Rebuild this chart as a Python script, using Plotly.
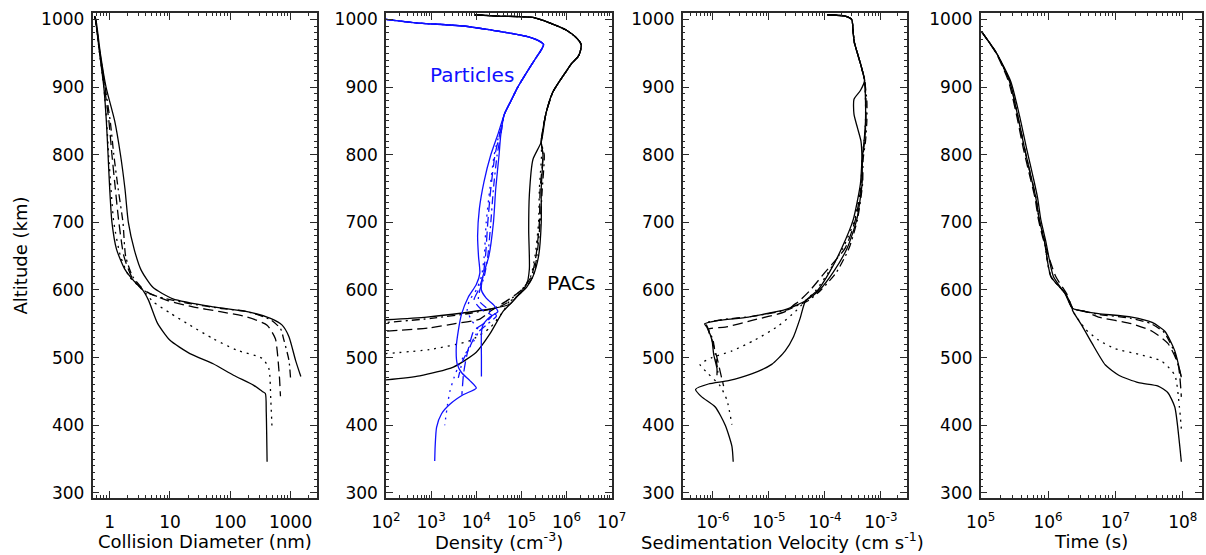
import plotly.graph_objects as go

# ---------------- data ----------------
# Panel 1: collision diameter (nm) vs altitude (km)
diam_alt_1 = [1005, 1000, 950, 900, 850, 800, 750, 700, 660, 630, 612, 602, 585, 551, 526, 506, 491, 474, 459, 450, 447, 420, 346]
diam_val_1 = [0.56, 0.58, 0.68, 0.80, 0.88, 0.94, 1.0, 1.09, 1.3, 1.8, 2.6, 3.4, 4.4, 6.2, 9.9, 21.4, 52, 113, 245, 340, 382, 395, 408]
diam_alt_2 = [1005, 1000, 950, 900, 850, 800, 750, 700, 650, 620, 600, 583, 566, 548, 528, 511, 499, 484, 437, 393]
diam_val_2 = [0.56, 0.58, 0.68, 0.80, 0.89, 0.96, 1.05, 1.17, 1.51, 2.1, 3.55, 5.2, 10, 21.4, 52, 129, 337, 436, 470, 494]
diam_alt_3 = [1005, 1000, 950, 900, 850, 800, 750, 700, 650, 620, 602, 595, 585, 575, 568, 560, 548, 528, 510, 493, 470, 443]
diam_val_3 = [0.56, 0.58, 0.69, 0.82, 0.97, 1.09, 1.24, 1.42, 1.72, 2.3, 3.34, 4.6, 8.7, 24, 68, 190, 408, 560, 600, 625, 655, 680]
diam_alt_4 = [1005, 1000, 950, 900, 850, 800, 750, 700, 650, 620, 597, 588, 580, 573, 568, 556, 543, 526, 496, 469]
diam_val_4 = [0.56, 0.58, 0.69, 0.84, 1.02, 1.17, 1.38, 1.66, 1.84, 2.4, 4.05, 7.7, 21, 68, 190, 465, 680, 775, 940, 1000]
diam_alt_5 = [1005, 1000, 950, 900, 850, 800, 750, 700, 659, 629, 604, 587, 575, 568, 558, 548, 531, 496, 472]
diam_val_5 = [0.56, 0.59, 0.70, 0.87, 1.21, 1.51, 1.79, 2.04, 2.57, 3.34, 5.2, 11.2, 52, 190, 465, 725, 940, 1210, 1480]

# Panel 2: density (cm^-3); particles (blue) and PACs (black)
part_top_alt = [1000, 995, 990, 984, 979, 974, 968, 963, 955, 940, 920, 900, 880, 860]
part_top_val = [100, 450, 5.9e3, 2.3e4, 6.5e4, 1.5e5, 2.5e5, 3.1e5, 2.75e5, 1.95e5, 1.26e5, 8.3e4, 5.9e4, 4.2e4]
part_alt_1 = [830, 800, 760, 720, 680, 650, 625, 608, 589, 564, 540, 515, 490, 478, 466, 455, 445, 431, 417, 397, 370, 347]
part_val_1 = [3.0e4, 2.1e4, 1.48e4, 1.17e4, 1.07e4, 1.12e4, 1.2e4, 1.0e4, 6.6e3, 4.7e3, 4.0e3, 3.6e3, 3.8e3, 4.7e3, 7.2e3, 1.0e4, 5.1e3, 2.6e3, 1.7e3, 1.32e3, 1.23e3, 1.2e3]
part_alt_2 = [830, 800, 750, 700, 650, 620, 600, 585, 570, 555, 540, 525, 510, 490, 470, 450, 430, 400]
part_val_2 = [3.2e4, 2.5e4, 2.0e4, 1.66e4, 1.5e4, 1.3e4, 1.0e4, 7.1e3, 6.3e3, 7.9e3, 1.12e4, 8.9e3, 6.3e3, 4.2e3, 3.2e3, 2.6e3, 2.3e3, 2.0e3]
part_alt_3 = [830, 800, 750, 700, 650, 620, 600, 585, 572, 562, 552, 540, 520, 500, 475, 445]
part_val_3 = [3.3e4, 2.6e4, 2.1e4, 1.8e4, 1.6e4, 1.4e4, 1.12e4, 8.9e3, 1.26e4, 2.2e4, 1.6e4, 8.9e3, 7.1e3, 6.0e3, 5.2e3, 4.8e3]
part_alt_4 = [830, 800, 750, 700, 650, 620, 600, 585, 572, 562, 550, 535, 515, 495, 470]
part_val_4 = [3.5e4, 2.9e4, 2.4e4, 2.1e4, 1.8e4, 1.5e4, 1.2e4, 1.12e4, 1.8e4, 2.8e4, 1.8e4, 1.0e4, 7.1e3, 5.0e3, 4.0e3]
part_alt_5 = [830, 800, 750, 700, 650, 620, 600, 588, 577, 568, 560, 548, 536, 500, 472]
part_val_5 = [3.5e4, 3.2e4, 2.7e4, 2.4e4, 1.9e4, 1.4e4, 1.3e4, 1.66e4, 2.5e4, 3.0e4, 2.0e4, 1.4e4, 1.3e4, 1.3e4, 1.3e4]

pac_top_alt = [1007, 1005, 1003, 995, 984, 972, 963, 952, 945, 935, 924, 893, 861, 819]
pac_top_val = [9e3, 3e4, 1.8e5, 4.2e5, 1.0e6, 1.7e6, 2.1e6, 2.0e6, 1.8e6, 1.3e6, 1.0e6, 5.0e5, 3.5e5, 2.75e5]
pac_alt_1 = [793, 741, 688, 631, 608, 584, 569, 535, 508, 486, 473, 467]
pac_val_1 = [1.8e5, 1.5e5, 1.45e5, 1.5e5, 1.3e5, 6.6e4, 4.0e4, 2.0e4, 1.0e4, 3.1e3, 560, 100]
pac_alt_2 = [800, 750, 700, 650, 620, 600, 585, 569, 544, 525, 512, 506]
pac_val_2 = [2.8e5, 2.5e5, 2.4e5, 2.0e5, 1.6e5, 1.0e5, 5.6e4, 4.0e4, 2.0e4, 7.2e3, 930, 100]
pac_alt_3 = [800, 750, 700, 650, 620, 600, 585, 570, 557, 550, 544, 539]
pac_val_3 = [3.0e5, 2.6e5, 2.5e5, 2.1e5, 1.66e5, 1.0e5, 5.0e4, 2.2e4, 1.2e4, 3.2e3, 930, 100]
pac_alt_4 = [800, 750, 700, 650, 620, 600, 588, 575, 566, 558, 552]
pac_val_4 = [3.2e5, 2.9e5, 2.6e5, 2.2e5, 1.8e5, 1.12e5, 7.1e4, 3.2e4, 7.9e3, 1.0e3, 100]
pac_alt_5 = [800, 750, 700, 650, 620, 604, 589, 579, 573, 566, 560, 556]
pac_val_5 = [3.0e5, 2.75e5, 2.75e5, 2.4e5, 1.8e5, 1.3e5, 7.6e4, 5.5e4, 2.5e4, 5.0e3, 800, 100]

# Panel 3: sedimentation velocity (cm s^-1)
vel_top_alt = [1007, 1005, 1000, 980, 966, 950, 929, 910]
vel_top_val = [1.1e-4, 2.3e-4, 3.0e-4, 3.2e-4, 3.35e-4, 3.8e-4, 4.5e-4, 5.1e-4]
vel_mid_alt = [880, 850, 820, 793, 757, 704, 662, 626, 600, 584]
vel_mid_1 = [5.3e-4, 5.3e-4, 5.0e-4, 4.6e-4, 4.3e-4, 3.2e-4, 2.0e-4, 1.2e-4, 7.5e-5, 4.5e-5]
vel_mid_2 = [5.3e-4, 5.3e-4, 5.0e-4, 4.6e-4, 4.4e-4, 3.4e-4, 2.1e-4, 1.15e-4, 7.0e-5, 4.5e-5]
vel_mid_3 = [5.4e-4, 5.4e-4, 5.1e-4, 4.7e-4, 4.5e-4, 3.5e-4, 2.3e-4, 1.0e-4, 5.5e-5, 3.5e-5]
vel_mid_4 = [5.6e-4, 5.6e-4, 5.3e-4, 4.8e-4, 4.7e-4, 3.8e-4, 2.7e-4, 1.6e-4, 8.5e-5, 5.0e-5]
vel_mid5_alt = [895, 882, 860, 840, 820, 793, 757, 704, 662, 626, 600, 584]
vel_mid_5 = [4.3e-4, 3.3e-4, 3.3e-4, 3.8e-4, 4.4e-4, 4.6e-4, 4.6e-4, 3.7e-4, 2.5e-4, 1.4e-4, 8.0e-5, 4.5e-5]
vel_alt_1 = [558, 531, 510, 490, 476, 466, 461, 453, 442, 427, 400, 369, 346]
vel_val_1 = [3.6e-5, 2.75e-5, 1.95e-5, 1.12e-5, 4.9e-6, 1.9e-6, 8.3e-7, 4.9e-7, 6.3e-7, 1.1e-6, 1.66e-6, 2.18e-6, 2.3e-6]
vel_alt_2 = [568, 547, 526, 510, 500, 490, 476, 458, 437, 401]
vel_val_2 = [2.95e-5, 1.48e-5, 5.6e-6, 2.2e-6, 9.6e-7, 5.9e-7, 8.3e-7, 1.35e-6, 1.78e-6, 2.18e-6]
vel_alt_3 = [578, 568, 555, 545, 542, 526, 500, 479, 458]
vel_val_3 = [2.8e-5, 1.95e-5, 5.0e-6, 1.66e-6, 8.3e-7, 9.6e-7, 1.18e-6, 1.35e-6, 1.55e-6]
vel_alt_4 = [578, 571, 561, 556, 551, 545, 526, 505, 485, 472]
vel_val_4 = [3.4e-5, 2.2e-5, 5.0e-6, 1.4e-6, 7.5e-7, 8.0e-7, 1.0e-6, 1.1e-6, 1.2e-6, 1.25e-6]
vel_alt_5 = [578, 571, 560, 555, 550, 545, 526, 505, 484, 474]
vel_val_5 = [3.2e-5, 1.95e-5, 4.3e-6, 1.26e-6, 7.1e-7, 7.8e-7, 9.6e-7, 1.03e-6, 1.18e-6, 1.18e-6]

# Panel 4: time (s)
time_top_alt = [982, 950, 908, 856, 809, 767, 736, 704, 673, 620, 594, 573]
time_top_1 = [1.03e5, 1.72e5, 2.7e5, 3.57e5, 4.48e5, 5.6e5, 6.6e5, 7.4e5, 8.8e5, 1.1e6, 1.83e6, 2.3e6]
time_top_3 = [1.03e5, 1.70e5, 2.6e5, 3.45e5, 4.3e5, 5.4e5, 6.4e5, 7.2e5, 8.6e5, 1.3e6, 1.9e6, 2.3e6]
time_top_5 = [1.03e5, 1.72e5, 2.8e5, 3.8e5, 4.8e5, 6.0e5, 7.0e5, 7.8e5, 9.2e5, 1.2e6, 1.8e6, 2.3e6]
time_alt_1 = [570, 547, 521, 489, 474, 463, 458, 448, 427, 374, 346]
time_val_1 = [2.3e6, 3.2e6, 4.5e6, 7.1e6, 1.12e7, 2.2e7, 4.3e7, 6.0e7, 7.6e7, 8.9e7, 9.5e7]
time_alt_2 = [570, 542, 526, 513, 505, 495, 474, 427, 395]
time_val_2 = [2.3e6, 3.6e6, 5.6e6, 1.0e7, 2.2e7, 4.8e7, 7.6e7, 8.9e7, 9.5e7]
time_alt_3 = [568, 560, 550, 539, 521, 490, 442]
time_val_3 = [3.6e6, 5.6e6, 1.74e7, 3.5e7, 6.0e7, 8.5e7, 9.5e7]
time_alt_4 = [568, 564, 558, 550, 537, 508, 473]
time_val_4 = [3.6e6, 5.6e6, 1.7e7, 3.4e7, 5.3e7, 7.5e7, 9.4e7]
time_alt_5 = [568, 565, 560, 552, 539, 510, 471]
time_val_5 = [3.6e6, 5.6e6, 1.74e7, 3.5e7, 5.4e7, 7.6e7, 9.5e7]

alt_ticks = [300, 400, 500, 600, 700, 800, 900, 1000]
diam_ticks = [1, 10, 100, 1000]
diam_ticktext = ["1", "10", "100", "1000"]
dens_ticks = [1e2, 1e3, 1e4, 1e5, 1e6, 1e7]
dens_ticktext = ["10<sup>2</sup>", "10<sup>3</sup>", "10<sup>4</sup>", "10<sup>5</sup>", "10<sup>6</sup>", "10<sup>7</sup>"]
vel_ticks = [1e-6, 1e-5, 1e-4, 1e-3]
vel_ticktext = ["10<sup>-6</sup>", "10<sup>-5</sup>", "10<sup>-4</sup>", "10<sup>-3</sup>"]
time_ticks = [1e5, 1e6, 1e7, 1e8]
time_ticktext = ["10<sup>5</sup>", "10<sup>6</sup>", "10<sup>7</sup>", "10<sup>8</sup>"]

# ---------------- layout geometry ----------------
W, H = 1206, 555
PANEL_X = [(92.5, 316.5), (386.0, 611.7), (682.7, 906.7), (980.7, 1201.7)]
PLOT_TOP, PLOT_BOTTOM = 12.7, 498.3
ALT_RANGE = [292, 1010]
X_LOG_RANGES = [[-0.285, 3.43], [2, 7], [-6.54, -2.54], [5, 8.28]]
FONT = "DejaVu Sans"
FRAME = "#2a2a2a"

STYLES = ["solid", "2px,5px", "10px,5px", "8px,4px,2px,4px", "solid"]
LW = 1.3
BLUE = "#1010ff"

fig = go.Figure()


def add(panel, alts, vals, style, color="black", width=LW):
    suffix = "" if panel == 1 else str(panel)
    fig.add_trace(go.Scatter(x=vals, y=alts, mode="lines",
                             line=dict(color=color, width=width, dash=style,
                                       shape="spline", smoothing=0.6),
                             xaxis="x" + suffix, yaxis="y" + suffix,
                             showlegend=False, hoverinfo="skip"))


# panel 1
for a, v, s in zip([diam_alt_1, diam_alt_2, diam_alt_3, diam_alt_4, diam_alt_5],
                   [diam_val_1, diam_val_2, diam_val_3, diam_val_4, diam_val_5], STYLES):
    add(1, a, v, s)

# panel 2 - PACs (black)
for a, v, s in zip([pac_alt_1, pac_alt_2, pac_alt_3, pac_alt_4, pac_alt_5],
                   [pac_val_1, pac_val_2, pac_val_3, pac_val_4, pac_val_5], STYLES):
    add(2, pac_top_alt + a, pac_top_val + v, s)
# panel 2 - particles (blue)
for a, v, s in zip([part_alt_1, part_alt_2, part_alt_3, part_alt_4, part_alt_5],
                   [part_val_1, part_val_2, part_val_3, part_val_4, part_val_5], STYLES):
    add(2, part_top_alt + a, part_top_val + v, s, color=BLUE)

# panel 3
mids = [(vel_mid_alt, vel_mid_1), (vel_mid_alt, vel_mid_2), (vel_mid_alt, vel_mid_3),
        (vel_mid_alt, vel_mid_4), (vel_mid5_alt, vel_mid_5)]
for (ma, mv), a, v, s in zip(mids,
                             [vel_alt_1, vel_alt_2, vel_alt_3, vel_alt_4, vel_alt_5],
                             [vel_val_1, vel_val_2, vel_val_3, vel_val_4, vel_val_5], STYLES):
    add(3, vel_top_alt + ma + a, vel_top_val + mv + v, s)

# panel 4
tops = [time_top_1, time_top_1, time_top_3, time_top_1, time_top_5]
for t, a, v, s in zip(tops,
                      [time_alt_1, time_alt_2, time_alt_3, time_alt_4, time_alt_5],
                      [time_val_1, time_val_2, time_val_3, time_val_4, time_val_5], STYLES):
    add(4, time_top_alt + a, t + v, s)


def minor_log(lo, hi):
    out = []
    for e in range(lo, hi + 1):
        for m in range(2, 10):
            out.append(m * 10.0 ** e)
    return out


tickfont = dict(family=FONT, size=17, color="black")
ydom = [1 - PLOT_BOTTOM / H, 1 - PLOT_TOP / H]
xticks = [(diam_ticks, diam_ticktext, minor_log(-1, 3)),
          (dens_ticks, dens_ticktext, minor_log(2, 6)),
          (vel_ticks, vel_ticktext, minor_log(-7, -3)),
          (time_ticks, time_ticktext, minor_log(5, 8))]

layout = dict(width=W, height=H, margin=dict(l=0, r=0, t=0, b=0),
              paper_bgcolor="white", plot_bgcolor="white", showlegend=False)
for i in range(4):
    suffix = "" if i == 0 else str(i + 1)
    tv, tt, mv = xticks[i]
    layout["xaxis" + suffix] = dict(
        type="log", range=X_LOG_RANGES[i],
        domain=[PANEL_X[i][0] / W, PANEL_X[i][1] / W],
        anchor="y" + suffix, tickmode="array", tickvals=tv, ticktext=tt,
        ticks="inside", ticklen=8, tickwidth=1, tickcolor=FRAME,
        showline=True, linecolor=FRAME, linewidth=1.5, mirror="allticks",
        showgrid=False, zeroline=False, tickfont=tickfont,
        ticklabelstandoff=8, automargin=False,
        minor=dict(tickmode="array", tickvals=mv, ticks="inside", ticklen=4,
                   tickcolor=FRAME, tickwidth=1, showgrid=False))
    layout["yaxis" + suffix] = dict(
        range=ALT_RANGE, domain=ydom, anchor="x" + suffix,
        tickmode="array", tickvals=alt_ticks,
        ticks="inside", ticklen=7, tickwidth=1, tickcolor=FRAME,
        showline=True, linecolor=FRAME, linewidth=1.5, mirror="allticks",
        showgrid=False, zeroline=False, tickfont=tickfont,
        ticklabelstandoff=3, automargin=False,
        minor=dict(dtick=10, ticks="inside", ticklen=3, tickcolor=FRAME,
                   tickwidth=1, showgrid=False))

fig.update_layout(**layout)

titlefont = dict(family=FONT, size=18, color="black")
ann = [
    dict(text="Collision Diameter (nm)", x=204.5, y=541),
    dict(text="Density (cm<sup>-3</sup>)", x=499, y=541),
    dict(text="Sedimentation Velocity (cm s<sup>-1</sup>)", x=782, y=541),
    dict(text="Time (s)", x=1091, y=541),
]
for a in ann:
    fig.add_annotation(text=a["text"], x=a["x"] / W, y=1 - a["y"] / H,
                       xref="paper", yref="paper", showarrow=False,
                       xanchor="center", yanchor="middle", font=titlefont)
fig.add_annotation(text="Altitude (km)", x=20 / W, y=1 - 255.5 / H,
                   xref="paper", yref="paper", showarrow=False, textangle=-90,
                   xanchor="center", yanchor="middle", font=titlefont)
fig.add_annotation(text="Particles", x=472 / W, y=1 - 75 / H, xref="paper", yref="paper",
                   showarrow=False, xanchor="center", yanchor="middle",
                   font=dict(family=FONT, size=20, color=BLUE))
fig.add_annotation(text="PACs", x=571 / W, y=1 - 283 / H, xref="paper", yref="paper",
                   showarrow=False, xanchor="center", yanchor="middle",
                   font=dict(family=FONT, size=20, color="black"))

fig.write_html("out.html",
               config={"displayModeBar": False},
               post_script="document.body.style.margin='0px';"
                           "document.body.style.overflow='hidden';")
